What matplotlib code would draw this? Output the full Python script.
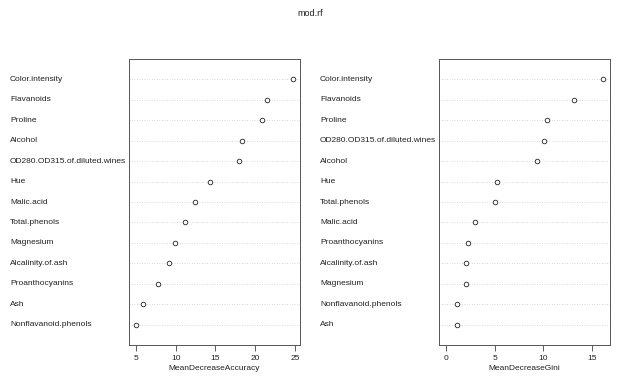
import matplotlib.pyplot as plt
from matplotlib.transforms import blended_transform_factory

plt.rcParams['font.family'] = ['Liberation Sans', 'DejaVu Sans']

acc_vars = ["Color.intensity", "Flavanoids", "Proline", "Alcohol",
            "OD280.OD315.of.diluted.wines", "Hue", "Malic.acid", "Total.phenols",
            "Magnesium", "Alcalinity.of.ash", "Proanthocyanins", "Ash",
            "Nonflavanoid.phenols"]
acc_vals = [24.8, 21.5, 20.9, 18.3, 17.95, 14.3, 12.4, 11.2, 9.95, 9.15, 7.8, 5.85, 4.95]

gini_vars = ["Color.intensity", "Flavanoids", "Proline", "OD280.OD315.of.diluted.wines",
             "Alcohol", "Hue", "Total.phenols", "Malic.acid", "Proanthocyanins",
             "Alcalinity.of.ash", "Magnesium", "Nonflavanoid.phenols", "Ash"]
gini_vals = [16.15, 13.15, 10.4, 10.05, 9.35, 5.25, 5.05, 2.95, 2.27, 2.08, 2.03, 1.15, 1.1]

fig = plt.figure(figsize=(6.2, 3.85), dpi=100)
fig.text(0.5, 1 - 14 / 385, "mod.rf", ha='center', va='center', fontsize=6.5, color='#222222')


def dotpanel(left_px, label_px, names, vals, xlim, ticks, xlabel):
    ax = fig.add_axes([left_px / 620, 1 - 345 / 385, 171 / 620, 286 / 385])
    n = len(names)
    ys = list(range(n, 0, -1))
    for y in ys:
        ax.axhline(y, color='#cccccc', lw=0.6, ls=(0, (1, 2)), zorder=1)
    ax.plot(vals, ys, 'o', mfc='white', mec='#222222', mew=0.6, ms=3.3, ls='none', zorder=3)
    ax.set_xlim(*xlim)
    ax.set_ylim(0, n + 1)
    ax.set_yticks([])
    ax.set_xticks(ticks)
    ax.tick_params(axis='x', length=4, width=0.6, labelsize=6.0, pad=3,
                   color='#444444', labelcolor='#222222')
    ax.set_xlabel(xlabel, fontsize=6.0, labelpad=2, color='#222222')
    for s in ax.spines.values():
        s.set_linewidth(0.7)
        s.set_color('#555555')
    tr = blended_transform_factory(fig.transFigure, ax.transData)
    for name, y in zip(names, ys):
        ax.text(label_px / 620, y, name, transform=tr, ha='left', va='center',
                fontsize=6.0, color='#222222')
    return ax


dotpanel(129, 10, acc_vars, acc_vals, (4.12, 25.63), [5, 10, 15, 20, 25], "MeanDecreaseAccuracy")
dotpanel(439, 320, gini_vars, gini_vals, (-0.72, 16.85), [0, 5, 10, 15], "MeanDecreaseGini")

fig.savefig("out.png", dpi=100)
